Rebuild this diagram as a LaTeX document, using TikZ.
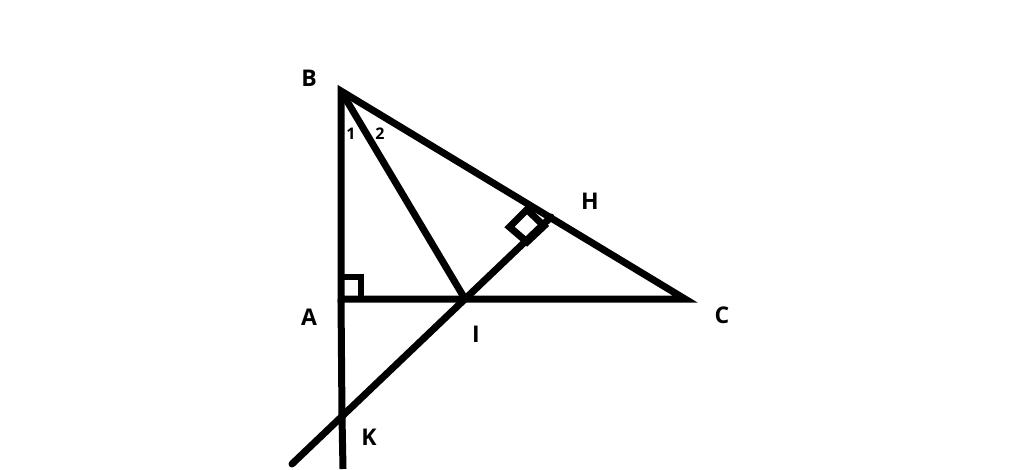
\documentclass[tikz,border=0pt]{standalone}
\usepackage{fontspec}
\setmainfont{Open Sans}
\usetikzlibrary{calc}
\tikzset{lbl/.style={font=\fontsize{23}{28}\selectfont\bfseries,inner sep=0pt},
  ang/.style={font=\fontsize{16}{19}\selectfont\bfseries,inner sep=0pt}}

\begin{document}
\begin{tikzpicture}[x=1pt,y=-1pt,line width=7pt]
        \useasboundingbox (0,0) rectangle (1024,469);
        \coordinate (B) at (341,91);
        \coordinate (A) at (341,299);
        \coordinate (C) at (685,299);
        \coordinate (I) at (465,299);
        \coordinate (H) at (551,217);
        \coordinate (K) at (342,417);
        \coordinate (P) at (292,464);
        \coordinate (Q) at (343,469);
        \draw (A) -- (B) -- (C) -- cycle;
        \draw (B) -- (I);
        \draw[line cap=round] (H) -- (I) -- (P);
        \draw (A) -- (K) -- (Q);
%        right angles
        \draw[line width=6pt] ($(A)+(0,-22)$) -- ++(20,0) -- ++(0,22);
        \draw[line width=7pt] (527,209.5) -- (509.5,227) -- (527,242) -- (544,226) -- cycle;
        \node[lbl] (lB) at (309,78) {B};
        \node[lbl] (lA) at (309,317) {A};
        \node[lbl] (lC) at (722,315) {C};
        \node[lbl] (lH) at (590,201) {H};
        \node[lbl] (lI) at (476,334) {I};
        \node[lbl] (lK) at (369,437) {K};
        \node[ang] (l1) at (351,134) {1};
        \node[ang] (l2) at (380,134) {2};
      \end{tikzpicture}
\end{document}
